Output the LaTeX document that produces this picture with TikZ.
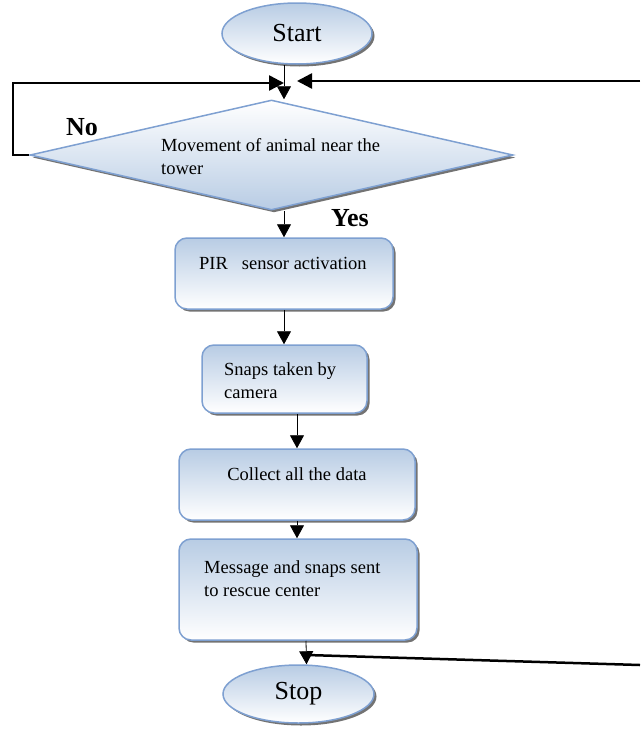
\documentclass[tikz,border=0pt]{standalone}
\usepackage{fontspec}
\setmainfont{Liberation Serif}
\usetikzlibrary{shapes.geometric,shadows,arrows.meta}

\definecolor{edgeblue}{RGB}{126,160,209}
\definecolor{fillblue}{RGB}{184,204,228}
\newcommand{\boxfont}{\fontsize{18.5}{23}\selectfont}
\newcommand{\termfont}{\fontsize{26}{30}\selectfont}

\begin{document}
\begin{tikzpicture}[x=1pt, y=-1pt,
    shadowed/.style={drop shadow={shadow xshift=2.5pt, shadow yshift=-2.5pt,
                                  fill=black!55, opacity=1}},
    terminal/.style={ellipse, draw=edgeblue, line width=1.5pt,
                     top color=fillblue, bottom color=white, shadowed,
                     minimum width=150pt, minimum height=61pt,
                     inner sep=0pt, font=\termfont},
    decision/.style={diamond, draw=edgeblue, line width=1.5pt,
                     top color=white, bottom color=fillblue, shadowed,
                     minimum width=483pt, minimum height=110pt, inner sep=0pt},
    process/.style={rectangle, rounded corners=12pt, draw=edgeblue,
                    line width=1.5pt, top color=fillblue, bottom color=white,
                    shadowed, inner sep=0pt},
    txt/.style={font=\boxfont, align=left, inner sep=0pt},
    answer/.style={font=\termfont\bfseries, inner sep=0pt},
    arr/.style={line width=0.8pt, -{Triangle[length=13pt, width=14pt]}},
    loopline/.style={line width=2.5pt}]
    \useasboundingbox (0,0) rectangle (640,731);

    \node[terminal] (start) at (297, 33.5) {Start};
    \node[decision] (dec) at (271.5, 155) {};
    \node[txt, anchor=west] (dectext) at (161, 156.5) {Movement of animal near the\\tower};
    \node[process, minimum width=218pt, minimum height=71pt] (pir) at (284, 273.5) {};
    \node[txt, anchor=west] (pirtext) at (199, 263) {PIR\ \ \ sensor activation};
    \node[process, minimum width=165pt, minimum height=68pt] (snap) at (284.5, 379) {};
    \node[txt, anchor=west] (snaptext) at (224, 380.5) {Snaps taken by\\camera};
    \node[process, minimum width=236pt, minimum height=71pt] (coll) at (297, 484.5) {};
    \node[txt] (colltext) at (297, 474) {Collect all the data};
    \node[process, minimum width=238pt, minimum height=101pt] (msg) at (298, 589.5) {};
    \node[txt, anchor=west] (msgtext) at (204, 578.5) {Message and snaps sent\\to rescue center};
    \node[terminal, minimum width=151pt, minimum height=58pt] (stop) at (298.5, 694) {Stop};

    \node[answer] (no) at (82, 127) {No};
    \node[answer] (yes) at (350, 218) {Yes};

    % loop ends
    \coordinate (nw) at (13, 83);
    \coordinate (ne) at (640, 81);
    \coordinate (se) at (640, 665);
    \coordinate (join) at (307, 655);

    \draw[arr] (start.south -| pir.center) -- (dec.north -| pir.center);
    \draw[arr] (dec.south -| pir.center) -- (pir.north);
    \draw[arr] (pir.south) -- (snap.north -| pir.south);
    \draw[arr] (snap.south -| coll.center) -- (coll.north);
    \draw[arr] (coll.south) -- (msg.north -| coll.south);
    \draw[arr] ([xshift=8pt]msg.south) -- ([xshift=8pt]stop.north);

    \draw[loopline, -{Triangle[length=15pt, width=15pt]}]
        (dec.west) -| (nw) -- (nw -| pir.center);
    \draw[loopline, -{Triangle[length=15pt, width=15pt]}]
        (ne) -- (ne -| start.south);
    \draw[loopline] (join) -- (se);
\end{tikzpicture}
\end{document}
